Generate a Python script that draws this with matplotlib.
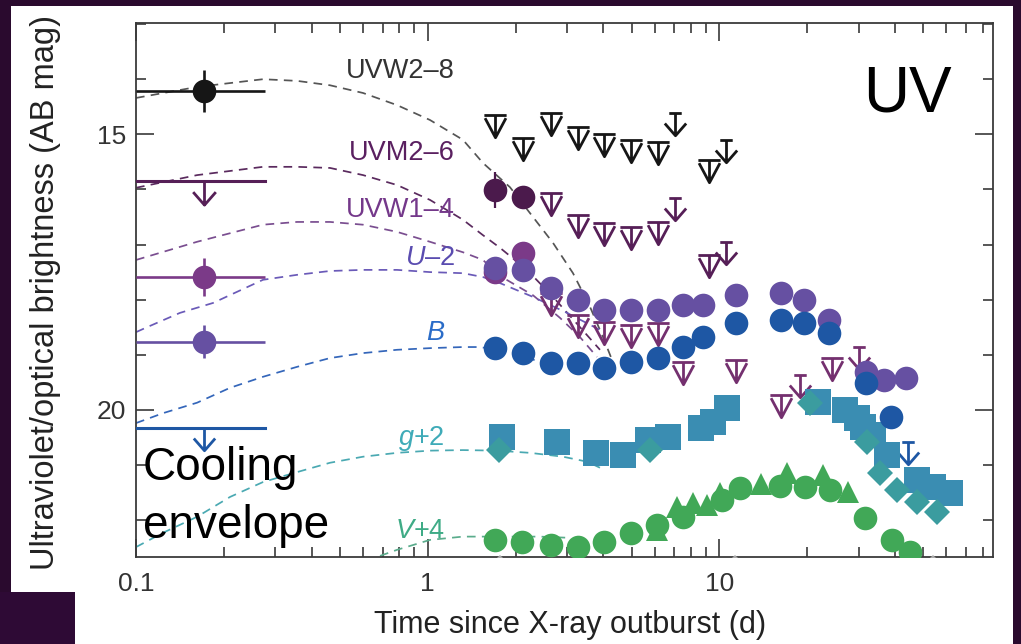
import matplotlib
matplotlib.use("Agg")
import matplotlib.pyplot as plt
from matplotlib.path import Path
from matplotlib.patches import Rectangle
from matplotlib.ticker import FixedLocator, NullFormatter

plt.rcParams['font.family'] = ['Liberation Sans', 'DejaVu Sans']
plt.rcParams['mathtext.fontset'] = 'custom'
plt.rcParams['mathtext.rm'] = 'Liberation Sans'
plt.rcParams['mathtext.it'] = 'Liberation Sans:italic'

# ---------------- early (first-epoch) photometry, t ~ 0.17 d ----------------
early_t = 0.171
early_t_lo, early_t_hi = 0.1, 0.277
uvw2_early, uvw2_early_err = 14.21, 0.38
uvm2_early_lim = 15.84
uvw1_early, uvw1_early_err = 17.59, 0.35
u_early, u_early_err = 18.76, 0.30
b_early_lim = 20.33

# ---------------- UVW2 - 8 ----------------
uvw2_lim_t = [1.70, 2.12, 2.65, 3.28, 4.02, 4.98, 6.16, 9.21]
uvw2_lim_m = [14.65, 15.07, 14.61, 14.87, 15.00, 15.10, 15.14, 15.47]
uvw2_arr_t = [7.04, 10.5]
uvw2_arr_m = [14.61, 15.10]

# ---------------- UVM2 - 6 ----------------
uvm2_t = [1.70, 2.12]
uvm2_m = [16.01, 16.14]
uvm2_err = [0.33, 0.15]
uvm2_lim_t = [2.65, 3.28, 4.02, 4.98, 6.16, 9.21]
uvm2_lim_m = [16.07, 16.46, 16.61, 16.68, 16.59, 17.19]
uvm2_arr_t = [7.04, 10.5]
uvm2_arr_m = [16.16, 16.95]

# ---------------- UVW1 - 4 ----------------
uvw1_t = [1.70, 2.12]
uvw1_m = [17.50, 17.15]
uvw1_lim_t = [2.65, 3.28, 4.02, 4.98, 6.16, 7.50, 11.4, 16.3, 24.3]
uvw1_lim_m = [17.88, 18.28, 18.41, 18.46, 18.42, 19.13, 19.09, 19.73, 19.06]
uvw1_arr_t = [18.9, 30.1]
uvw1_arr_m = [19.37, 18.86]

# ---------------- U - 2 ----------------
u_t = [1.70, 2.12, 2.65, 3.28, 4.02, 4.98, 6.16, 7.50, 8.79, 11.4, 16.3, 19.5,
       23.75, 31.8, 36.7, 43.6]
u_m = [17.42, 17.46, 17.78, 18.01, 18.19, 18.19, 18.19, 18.10, 18.10, 17.91,
       17.88, 18.01, 18.37, 19.31, 19.46, 19.42]

# ---------------- B ----------------
b_t = [1.70, 2.12, 2.65, 3.28, 4.02, 4.98, 6.16, 7.50, 8.79, 11.4, 16.3, 19.5,
       23.75, 31.8, 38.8]
b_m = [18.88, 18.97, 19.15, 19.15, 19.24, 19.13, 19.06, 18.86, 18.68, 18.42,
       18.37, 18.42, 18.60, 19.51, 20.13]
b_arr_t = [44.3]
b_arr_m = [20.58]

# ---------------- g + 2 ----------------
g_sq_t = [1.80, 2.78, 3.78, 4.67, 5.69, 6.67, 8.65, 9.51, 10.6, 21.8, 27.0,
          29.6, 31.1, 33.6, 37.6, 47.6, 54.0, 61.7]
g_sq_m = [20.49, 20.58, 20.78, 20.82, 20.55, 20.49, 20.33, 20.22, 19.97, 19.86,
          20.00, 20.15, 20.31, 20.46, 20.82, 21.27, 21.40, 21.51]
g_dm_t = [1.76, 5.78, 20.5, 32.1, 35.5, 40.6, 47.6, 55.7]
g_dm_m = [20.73, 20.73, 19.88, 20.58, 21.14, 21.45, 21.67, 21.85]

# ---------------- V + 4 ----------------
v_ci_t = [1.70, 2.10, 2.65, 3.28, 4.02, 4.98, 6.11, 7.50, 10.2, 11.8, 16.1,
          19.7, 23.9, 31.6, 39.1, 45.0]
v_ci_m = [22.36, 22.40, 22.45, 22.49, 22.40, 22.23, 22.09, 21.94, 21.64, 21.42,
          21.38, 21.40, 21.45, 21.96, 22.36, 22.58]
v_tr_t = [6.11, 7.16, 8.12, 9.07, 10.05, 13.9, 17.05, 22.7, 27.6]
v_tr_m = [22.18, 21.76, 21.69, 21.72, 21.51, 21.34, 21.15, 21.18, 21.49]

# faint points sitting on the lower edge
grey_t = [1.77, 11.3, 54.0]
grey_m = [22.80, 22.80, 22.80]

# ---------------- cooling-envelope model curves ----------------
mod_uvw2_t = [0.1, 0.162, 0.2725, 0.3563, 0.4625, 0.6003, 0.785, 1.018, 1.321,
              1.547, 1.915, 2.296, 2.689, 3.149, 3.601, 3.990, 4.283]
mod_uvw2_m = [14.34, 14.14, 14.00, 14.03, 14.11, 14.25, 14.47, 14.74, 15.10,
              15.52, 15.96, 16.50, 16.97, 17.52, 18.13, 18.68, 19.09]
mod_uvm2_t = [0.1, 0.162, 0.2725, 0.3563, 0.4625, 0.6003, 0.785, 1.018, 1.321,
              1.547, 1.770, 2.190, 2.689, 3.328, 3.896]
mod_uvm2_m = [15.97, 15.74, 15.59, 15.59, 15.61, 15.74, 15.92, 16.19, 16.55,
              16.83, 17.06, 17.46, 17.95, 18.50, 18.91]
mod_uvw1_t = [0.1, 0.162, 0.2725, 0.3563, 0.4625, 0.6003, 0.785, 1.018, 1.321,
              1.547, 1.770, 2.296, 2.841, 3.328, 3.806]
mod_uvw1_m = [17.28, 16.95, 16.64, 16.59, 16.59, 16.64, 16.77, 16.95, 17.14,
              17.28, 17.57, 17.92, 18.33, 18.68, 19.04]
mod_u_t = [0.1, 0.1091, 0.1415, 0.1837, 0.2725, 0.3563, 0.4625, 0.6003, 0.785,
           1.018, 1.321, 1.547, 1.770, 2.296, 3.003, 3.896]
mod_u_m = [18.59, 18.50, 18.24, 18.06, 17.64, 17.55, 17.48, 17.46, 17.46,
           17.50, 17.52, 17.59, 17.70, 17.95, 18.24, 18.55]
mod_b_t = [0.1, 0.1238, 0.162, 0.2101, 0.2725, 0.3563, 0.4625, 0.6003, 0.785,
           1.018, 1.321, 1.511, 1.915, 2.427, 2.841]
mod_b_m = [20.24, 20.06, 19.87, 19.60, 19.40, 19.22, 19.06, 18.97, 18.91,
           18.88, 18.86, 18.86, 18.95, 19.13, 19.31]
mod_g_t = [0.1, 0.1238, 0.162, 0.2101, 0.2725, 0.3563, 0.4625, 0.6003, 0.785,
           1.018, 1.321, 1.729, 2.242, 2.909, 3.517, 3.896]
mod_g_m = [22.49, 22.23, 21.94, 21.58, 21.31, 21.13, 20.96, 20.85, 20.78,
           20.74, 20.73, 20.74, 20.78, 20.85, 20.94, 21.05]
mod_v_t = [0.6864, 0.785, 1.018, 1.321, 1.770, 2.427, 3.003]
mod_v_m = [22.65, 22.54, 22.36, 22.30, 22.30, 22.30, 22.32]

# ---------------- band labels ----------------
band_labels = ['UVW2\u20138', 'UVM2\u20136', 'UVW1\u20134', '$U$\u20132', '$B$',
               '$g$+2', '$V$+4']
band_label_t = [1.24, 1.24, 1.24, 1.24, 1.146, 1.146, 1.146]
band_label_m = [13.98, 15.47, 16.50, 17.37, 18.73, 20.63, 22.32]

# colours
C_UVW2 = '#161616'
C_UVM2 = '#4b1a4c'
C_UVM2_LIM = '#561f57'
C_UVW1 = '#7b3a88'
C_UVW1_LIM = '#74306f'
C_U = '#6650a2'
C_B = '#1e57a4'
C_G = '#3a8db2'
C_GD = '#3b9c9f'
C_V = '#41a857'
label_colors = ['#333333', '#5a2060', '#74388a', '#5a4cb0', '#2a6cc8',
                '#3fabb8', '#3fab86']
model_colors = ['#555555', '#5a2a5e', '#7a4e90', '#6a5ab8', '#3466ba',
                '#4aa9b2', '#5aac8c']


def seg_marker(segments):
    verts, codes = [], []
    for seg in segments:
        for i, p in enumerate(seg):
            verts.append(p)
            codes.append(Path.MOVETO if i == 0 else Path.LINETO)
    return Path(verts, codes)


# upper-limit symbols; the origin (data value) sits at the top of the symbol
LIM_TRI = seg_marker([[(-0.5, 0), (0.5, 0)], [(0, 0), (0, -1)],
                      [(-0.47, -0.12), (0, -1), (0.47, -0.12)]])
LIM_ARROW = seg_marker([[(-0.28, 0), (0.28, 0)], [(0, 0), (0, -1)],
                        [(-0.48, -0.45), (0, -1), (0.48, -0.45)]])
LIM_PLAIN = seg_marker([[(0, 0), (0, -1)],
                        [(-0.48, -0.45), (0, -1), (0.48, -0.45)]])

fig = plt.figure(figsize=(10.21, 6.44), dpi=100, facecolor='#2a0a2e')
W, H = 1021.0, 644.0
fig.patches.append(Rectangle((11 / W, 0), (1013 - 11) / W, (644 - 6) / H,
                             transform=fig.transFigure, facecolor='white',
                             edgecolor='none', zorder=-2))
fig.patches.append(Rectangle((0, 0), 75 / W, (644 - 592) / H,
                             transform=fig.transFigure, facecolor='#2e0a35',
                             edgecolor='none', zorder=-1))

ax = fig.add_axes([136 / W, 1 - 557 / H, (993 - 136) / W, (557 - 23) / H])
ax.set_zorder(2)
ax.set_facecolor('none')
ax.set_xscale('log')
ax.set_xlim(0.1, 86.7)
ax.set_ylim(22.67, 12.98)

# model curves
models = [(mod_uvw2_t, mod_uvw2_m), (mod_uvm2_t, mod_uvm2_m),
          (mod_uvw1_t, mod_uvw1_m), (mod_u_t, mod_u_m), (mod_b_t, mod_b_m),
          (mod_g_t, mod_g_m), (mod_v_t, mod_v_m)]
for (mt, mm), col in zip(models, model_colors):
    ax.plot(mt, mm, ls=(0, (5, 3.6)), lw=1.25, color=col, zorder=2)


def limits(t, m, color, marker, ms=32, z=4):
    ax.plot(t, m, ls='none', marker=marker, ms=ms, mfc='none', mec=color,
            mew=2.0, zorder=z)


CIRC = 17

# early epoch
ax.errorbar([early_t], [uvw2_early], yerr=[uvw2_early_err],
            xerr=[[early_t - early_t_lo], [early_t_hi - early_t]],
            fmt='o', ms=CIRC, color=C_UVW2, mew=0, elinewidth=1.9, capsize=0, zorder=5)
ax.plot([early_t_lo, early_t_hi], [uvm2_early_lim] * 2, color=C_UVM2_LIM, lw=2.2, zorder=5)
limits([early_t], [uvm2_early_lim], C_UVM2_LIM, LIM_PLAIN, ms=34)
ax.errorbar([early_t], [uvw1_early], yerr=[uvw1_early_err],
            xerr=[[early_t - early_t_lo], [early_t_hi - early_t]],
            fmt='o', ms=CIRC, color=C_UVW1, mew=0, elinewidth=1.9, capsize=0, zorder=5)
ax.errorbar([early_t], [u_early], yerr=[u_early_err],
            xerr=[[early_t - early_t_lo], [early_t_hi - early_t]],
            fmt='o', ms=CIRC, color=C_U, mew=0, elinewidth=1.9, capsize=0, zorder=5)
ax.plot([early_t_lo, early_t_hi], [b_early_lim] * 2, color=C_B, lw=2.2, zorder=5)
limits([early_t], [b_early_lim], C_B, LIM_PLAIN, ms=32)

# UVW2
limits(uvw2_lim_t, uvw2_lim_m, C_UVW2, LIM_TRI)
limits(uvw2_arr_t, uvw2_arr_m, C_UVW2, LIM_ARROW)

# UVM2
ax.errorbar(uvm2_t, uvm2_m, yerr=uvm2_err, fmt='o', ms=CIRC, color=C_UVM2,
            mew=0, elinewidth=1.6, capsize=0, zorder=5)
limits(uvm2_lim_t, uvm2_lim_m, C_UVM2_LIM, LIM_TRI)
limits(uvm2_arr_t, uvm2_arr_m, C_UVM2_LIM, LIM_ARROW)

# UVW1
limits(uvw1_lim_t, uvw1_lim_m, C_UVW1_LIM, LIM_TRI, z=3.5)
limits(uvw1_arr_t, uvw1_arr_m, C_UVW1_LIM, LIM_ARROW)
ax.plot(uvw1_t, uvw1_m, 'o', ms=CIRC, color=C_UVW1, mew=0, zorder=5)

# U
ax.plot(u_t, u_m, 'o', ms=CIRC, color=C_U, mew=0, zorder=5.2)

# B
ax.plot(b_t, b_m, 'o', ms=CIRC, color=C_B, mew=0, zorder=5.4)
limits(b_arr_t, b_arr_m, C_B, LIM_ARROW)

# g
ax.plot(g_sq_t, g_sq_m, 's', ms=19, color=C_G, mew=0, zorder=5)
ax.plot(g_dm_t, g_dm_m, 'D', ms=13.5, color=C_GD, mew=0, zorder=5.1)

# V
ax.plot(v_ci_t, v_ci_m, 'o', ms=CIRC, color=C_V, mew=0, zorder=5)
ax.plot(v_tr_t, v_tr_m, '^', ms=16, color=C_V, mew=0, zorder=5.1)

ax.plot(grey_t, grey_m, 'D', ms=9, color='#a9a9a9', mew=0, zorder=4)

# band labels
for lab, lt, lm, col in zip(band_labels, band_label_t, band_label_m, label_colors):
    ax.text(lt, lm, lab, color=col, fontsize=19.5, ha='right', va='baseline', zorder=6)

# axes styling
for sp in ax.spines.values():
    sp.set_color('#3a3a3a')
    sp.set_linewidth(1.3)
ax.xaxis.set_major_locator(FixedLocator([0.1, 1, 10]))
ax.xaxis.set_minor_locator(FixedLocator([k * 10.0 ** e for e in (-1, 0, 1)
                                         for k in range(2, 10) if k * 10.0 ** e < 86]))
ax.set_xticklabels(['0.1', '1', '10'])
ax.xaxis.set_minor_formatter(NullFormatter())
ax.yaxis.set_major_locator(FixedLocator([15, 20]))
ax.yaxis.set_minor_locator(FixedLocator([13, 14, 16, 17, 18, 19, 21, 22]))
ax.set_yticklabels(['15', '20'])
ax.tick_params(which='both', direction='in', top=True, right=True,
               color='#3a3a3a', labelcolor='#333333', labelsize=19)
ax.tick_params(which='major', length=13, width=1.2)
ax.tick_params(which='minor', length=7.5, width=1.2)
ax.tick_params(axis='x', which='major', pad=11)
ax.tick_params(axis='y', which='major', pad=7)

# annotations
fig.text(907 / W, 1 - 112 / H, 'UV', fontsize=46, ha='center', va='baseline',
         color='black', zorder=10)
fig.text(143 / W, 1 - 480 / H, 'Cooling', fontsize=33, ha='left',
         va='baseline', color='black', zorder=10)
fig.text(143 / W, 1 - 538 / H, 'envelope', fontsize=33, ha='left',
         va='baseline', color='black', zorder=10)
fig.text(570 / W, 1 - 625 / H, 'Time since X-ray outburst (d)', fontsize=22,
         ha='center', va='center', color='#222222')
fig.text(46 / W, 1 - 292 / H, 'Ultraviolet/optical brightness (AB mag)',
         fontsize=23.5, rotation=90, ha='center', va='center', color='#222222')

fig.savefig('out.png', dpi=100, facecolor=fig.get_facecolor())
